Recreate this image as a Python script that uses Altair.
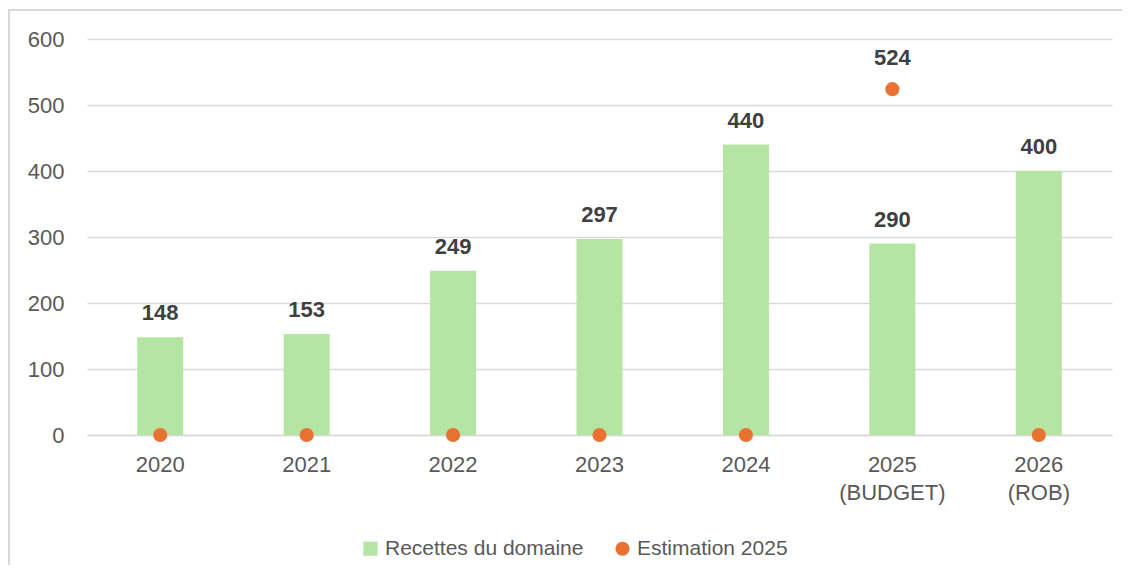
import altair as alt
import pandas as pd

categories = ["2020", "2021", "2022", "2023", "2024", "2025\n(BUDGET)", "2026\n(ROB)"]
recettes = [148, 153, 249, 297, 440, 290, 400]
estimation = [0, 0, 0, 0, 0, 524, 0]
series_names = ["Recettes du domaine", "Estimation 2025"]
y_ticks = [0, 100, 200, 300, 400, 500, 600]

GREEN = "#B4E5A2"
ORANGE = "#E97132"
GRID = "#D9D9D9"
LABEL = "#595959"
DARK = "#404040"
FONT = "Liberation Sans"
FS = 22

df = pd.DataFrame({"cat": categories, "rec": recettes, "est": estimation})

x = alt.X(
    "cat:N",
    sort=categories,
    scale=alt.Scale(paddingInner=0, paddingOuter=0),
    axis=alt.Axis(
        title=None,
        labelAngle=0,
        labelExpr="split(datum.value, '\\n')",
        labelLineHeight=28,
        labelFontSize=FS,
        labelColor=LABEL,
        labelPadding=19,
        ticks=False,
        domain=True,
        domainColor=GRID,
        domainWidth=1.5,
        grid=False,
    ),
)

yscale = alt.Scale(domain=[0, 600], nice=False)
yaxis = alt.Axis(
    title=None,
    values=y_ticks,
    labelFontSize=FS,
    labelColor=LABEL,
    labelPadding=23,
    ticks=False,
    domain=False,
    grid=True,
    gridColor=GRID,
    gridWidth=1.5,
)

legend_common = dict(
    title=None,
    orient="none",
    legendX=273,
    legendY=499,
    direction="horizontal",
)

color = alt.Color(
    "serie:N",
    scale=alt.Scale(domain=series_names, range=[GREEN, ORANGE]),
    legend=alt.Legend(
        labelFontSize=21,
        labelColor=LABEL,
        labelFont=FONT,
        labelLimit=0,
        symbolSize=200,
        symbolStrokeWidth=0,
        labelOffset=4,
        columnPadding=28,
        **legend_common,
    ),
)
shape = alt.Shape(
    "serie:N",
    scale=alt.Scale(domain=series_names, range=["square", "circle"]),
    legend=alt.Legend(labelLimit=0, **legend_common),
)

base = alt.Chart(df)

bars = base.transform_calculate(serie=f"'{series_names[0]}'").mark_bar(size=46).encode(
    x=x,
    y=alt.Y("rec:Q", scale=yscale, axis=yaxis),
    color=color,
)

bar_labels = base.mark_text(
    dy=-17, baseline="alphabetic", fontSize=FS, fontWeight="bold", color=DARK, font=FONT
).encode(x=x, y=alt.Y("rec:Q", scale=yscale), text=alt.Text("rec:Q"))

points = base.transform_calculate(serie=f"'{series_names[1]}'").mark_point(
    filled=True, size=200, opacity=1
).encode(
    x=x,
    y=alt.Y("est:Q", scale=yscale),
    color=color,
    shape=shape,
)

point_labels = base.transform_filter("datum.est > 0").mark_text(
    dy=-24, baseline="alphabetic", fontSize=FS, fontWeight="bold", color=DARK, font=FONT
).encode(x=x, y=alt.Y("est:Q", scale=yscale), text=alt.Text("est:Q"))

frame = base.mark_rect(fill=None, stroke=GRID, strokeWidth=2).encode(
    x=alt.value(-78), x2=alt.value(1200), y=alt.value(-29), y2=alt.value(700)
)

chart = (
    alt.layer(frame, bars, bar_labels, points, point_labels)
    .properties(
        width=1025,
        height=396,
        autosize=alt.AutoSizeParams(type="none"),
        padding={"left": 79, "top": 31, "right": 10, "bottom": 130},
    )
    .configure(font=FONT)
    .configure_view(stroke=None)
)

chart.save("out.html", embed_options={"renderer": "svg", "actions": False})
